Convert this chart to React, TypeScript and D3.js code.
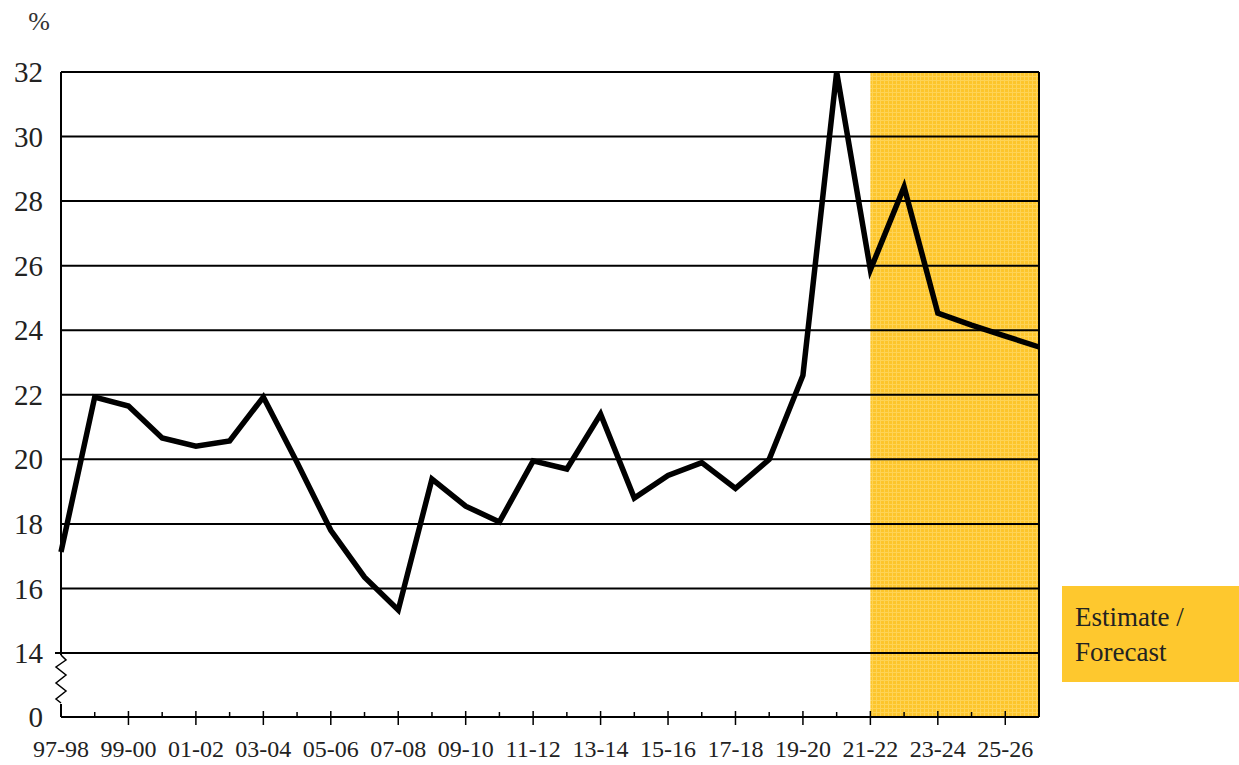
import React from "react";
import * as d3 from "d3";

const years: string[] = [
  "97-98","98-99","99-00","00-01","01-02","02-03","03-04","04-05","05-06","06-07",
  "07-08","08-09","09-10","10-11","11-12","12-13","13-14","14-15","15-16","16-17",
  "17-18","18-19","19-20","20-21","21-22","22-23","23-24","24-25","25-26","26-27",
];
const values: number[] = [
  17.13, 21.93, 21.65, 20.66, 20.41, 20.57, 21.93, 19.9, 17.8, 16.35,
  15.33, 19.39, 18.55, 18.06, 19.95, 19.7, 21.4, 18.8, 19.5, 19.9,
  19.1, 20.0, 22.6, 32.0, 25.87, 28.44, 24.53, 24.16, 23.82, 23.48,
];
const yTicks: number[] = [14, 16, 18, 20, 22, 24, 26, 28, 30, 32];
const forecastStart = "21-22";
const forecastEnd = "26-27";

const FONT = '"Liberation Serif", "Times New Roman", Times, serif';

export default function App() {
  const W = 1239, H = 765;
  const left = 61, right = 1039, top = 72, bottom14 = 653, zeroY = 717;
  const x = d3.scalePoint<string>().domain(years).range([left, right]);
  const y = d3.scaleLinear().domain([14, 32]).range([bottom14, top]);
  const line = d3.line<number>().x((_, i) => x(years[i])!).y((d) => y(d));
  const labelYears = years.filter((_, i) => i % 2 === 0 && i < years.length - 1);
  const minorYears = years.filter((_, i) => i % 2 === 1 && i < years.length - 1);
  const fx0 = x(forecastStart)!, fx1 = x(forecastEnd)!;
  const zig = "M61,655 L66,660 L56,667 L66,675 L56,683 L66,691 L56,699 L61,703";
  const ts = { fontFamily: FONT };
  return (
    <svg width={W} height={H} viewBox={`0 0 ${W} ${H}`} style={{ position: "absolute", left: 0, top: 0, background: "#fff", fontFamily: FONT }}>
      <defs>
        <pattern id="hatch" width="4" height="4" patternUnits="userSpaceOnUse">
          <rect width="4" height="4" fill="#FDC52B" />
          <path d="M0,0.5 H4 M0.5,0 V4" stroke="#FFD968" strokeWidth="1" opacity="0.7" />
        </pattern>
      </defs>
      <rect x={fx0} y={top} width={fx1 - fx0} height={zeroY - top} fill="url(#hatch)" />
      {yTicks.map((t) => (
        <line key={t} x1={t === 14 ? 55 : left} x2={right} y1={y(t)} y2={y(t)} stroke="#000" strokeWidth={2} />
      ))}
      <line x1={right} x2={right} y1={top} y2={zeroY} stroke="#000" strokeWidth={2} />
      <line x1={left} x2={left} y1={top} y2={bottom14 + 2} stroke="#000" strokeWidth={2} />
      <path d={zig} fill="none" stroke="#000" strokeWidth={1.5} />
      <line x1={left} x2={left} y1={704} y2={zeroY} stroke="#000" strokeWidth={2} />
      <line x1={left} x2={right} y1={zeroY} y2={zeroY} stroke="#000" strokeWidth={2} />
      {labelYears.map((yr, i) => (
        i === 0 ? null : <line key={yr} x1={x(yr)!} x2={x(yr)!} y1={zeroY - 6} y2={zeroY + 8} stroke="#000" strokeWidth={1.5} />
      ))}
      {minorYears.map((yr) => (
        <line key={yr} x1={x(yr)!} x2={x(yr)!} y1={zeroY - 5} y2={zeroY} stroke="#000" strokeWidth={1.5} />
      ))}
      <path d={line(values)!} fill="none" stroke="#000" strokeWidth={5.5} strokeLinejoin="miter" strokeMiterlimit={4} />
      {yTicks.map((t) => (
        <text key={t} x={43} y={y(t)} dy="0.35em" textAnchor="end" fontSize={29} fill="#222" style={ts}>{t}</text>
      ))}
      <text x={43} y={zeroY} dy="0.35em" textAnchor="end" fontSize={29} fill="#222" style={ts}>0</text>
      <text x={39} y={30} textAnchor="middle" fontSize={26} fill="#333" style={ts}>%</text>
      {labelYears.map((yr) => (
        <text key={yr} x={x(yr)!} y={757} textAnchor="middle" fontSize={24} fill="#222" style={ts}>{yr}</text>
      ))}
      <rect x={1062} y={586} width={177} height={96} fill="#FEC82E" />
      <text x={1075} y={626} fontSize={27} fill="#222" style={ts}>Estimate /</text>
      <text x={1075} y={661} fontSize={27} fill="#222" style={ts}>Forecast</text>
    </svg>
  );
}
